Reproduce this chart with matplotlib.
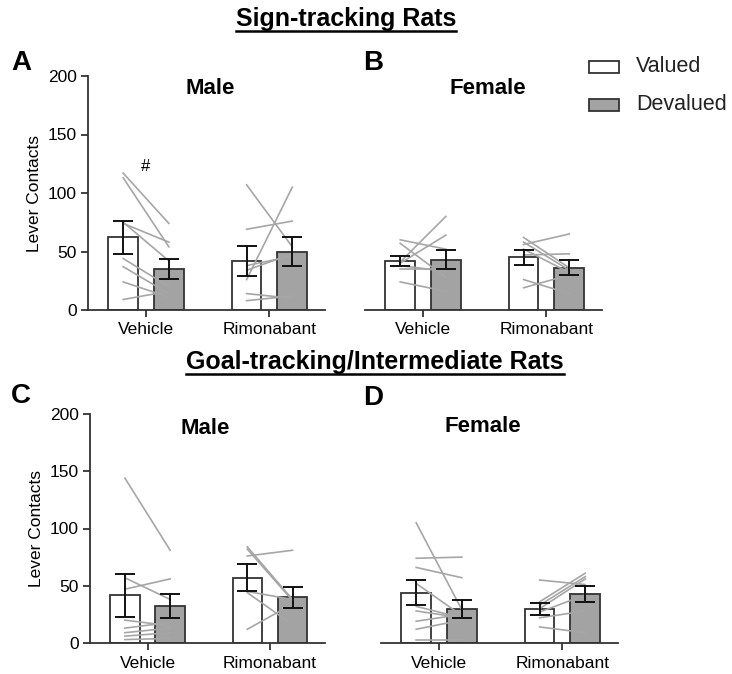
import matplotlib
matplotlib.use("Agg")
import matplotlib.pyplot as plt
from matplotlib.lines import Line2D
from matplotlib.patches import Rectangle

plt.rcParams['font.family'] = ['Liberation Sans', 'DejaVu Sans']

groups = ["Vehicle", "Rimonabant"]
legend_labels = ["Valued", "Devalued"]

# bar means and SEM (Valued, Devalued) per panel
A_valued = [62, 42]
A_valued_err = [14, 13]
A_deval = [35, 50]
A_deval_err = [8.5, 12.5]

B_valued = [42, 45]
B_valued_err = [4.5, 6.3]
B_deval = [43, 36]
B_deval_err = [8.3, 6.5]

C_valued = [41.5, 57]
C_valued_err = [19, 12]
C_deval = [32, 40]
C_deval_err = [10.5, 9]

D_valued = [44, 30]
D_valued_err = [11, 5.3]
D_deval = [30, 43]
D_deval_err = [7.8, 7]

# individual rats (valued -> devalued)
A_veh_valued = [117, 113, 74, 75, 44, 37, 24, 9]
A_veh_deval = [74, 54, 58, 42, 20, 14, 11, 16]
A_rim_valued = [107, 26, 69, 38, 34, 14, 8]
A_rim_deval = [54, 105, 76, 46, 48, 10, 12]

B_veh_valued = [41, 40, 60, 57, 38, 35, 24]
B_veh_deval = [80, 64, 52, 28, 33, 35, 16]
B_rim_valued = [56, 62, 58, 52, 47, 26, 19]
B_rim_deval = [65, 36, 34, 32, 48, 14, 30]

C_veh_valued = [144, 57, 47, 20, 13, 9, 6, 3]
C_veh_deval = [81, 38, 56, 15, 18, 13, 9, 4]
C_rim_valued = [84, 82, 76, 45, 44, 12]
C_rim_deval = [38, 37, 81, 38, 16, 34]

D_veh_valued = [105, 74, 66, 52, 32, 28, 19, 12, 3]
D_veh_deval = [29, 75, 57, 24, 22, 22, 25, 20, 3]
D_rim_valued = [55, 36, 33, 30, 27, 22, 14]
D_rim_deval = [51, 61, 58, 56, 42, 28, 9]

W, H = 732, 674
fig = plt.figure(figsize=(W / 100, H / 100), dpi=100)


def px_axes(left, right, top, bottom):
    return fig.add_axes([left / W, 1 - bottom / H, (right - left) / W, (bottom - top) / H])


edge = '#333333'
dev_color = '#a3a3a3'
line_color = '#a6a6a6'
off = 0.185
bw = 0.24


def draw_panel(ax, valued, valued_err, deval, deval_err, rats, show_y):
    x = range(len(groups))
    xv = [i - off for i in x]
    xd = [i + off for i in x]
    ax.bar(xv, valued, width=bw, color='white', edgecolor=edge, linewidth=1.3, zorder=1)
    ax.bar(xd, deval, width=bw, color=dev_color, edgecolor=edge, linewidth=1.3, zorder=1)
    for i, (v, d) in enumerate(rats):
        for a, b in zip(v, d):
            ax.plot([xv[i], xd[i]], [a, b], color=line_color, lw=1.2, zorder=2)
    ax.errorbar(xv, valued, yerr=valued_err, fmt='none', ecolor='#111111',
                elinewidth=1.4, capsize=7, capthick=1.4, zorder=3)
    ax.errorbar(xd, deval, yerr=deval_err, fmt='none', ecolor='#111111',
                elinewidth=1.4, capsize=7, capthick=1.4, zorder=3)
    ax.set_xlim(-0.47, 1.45)
    ax.set_ylim(0, 200)
    ax.set_xticks(list(x))
    ax.set_xticklabels(groups, fontsize=12.5)
    ax.spines['top'].set_visible(False)
    ax.spines['right'].set_visible(False)
    for s in ['left', 'bottom']:
        ax.spines[s].set_color(edge)
        ax.spines[s].set_linewidth(1.3)
    ax.tick_params(axis='x', length=5, width=1.3, color=edge, pad=4)
    if show_y:
        ax.set_yticks([0, 50, 100, 150, 200])
        ax.tick_params(axis='y', length=5, width=1.3, color=edge, labelsize=12.5, pad=3)
        ax.set_ylabel("Lever Contacts", fontsize=12.5)
    else:
        ax.spines['left'].set_visible(False)
        ax.set_yticks([])


axA = px_axes(88, 325, 76, 310)
draw_panel(axA, A_valued, A_valued_err, A_deval, A_deval_err,
           [(A_veh_valued, A_veh_deval), (A_rim_valued, A_rim_deval)], True)
axA.text(0, 116, "#", ha='center', va='bottom', fontsize=12)

axB = px_axes(365, 602, 76, 310)
draw_panel(axB, B_valued, B_valued_err, B_deval, B_deval_err,
           [(B_veh_valued, B_veh_deval), (B_rim_valued, B_rim_deval)], False)

axC = px_axes(90, 325, 414, 643)
draw_panel(axC, C_valued, C_valued_err, C_deval, C_deval_err,
           [(C_veh_valued, C_veh_deval), (C_rim_valued, C_rim_deval)], True)

axD = px_axes(381, 618, 414, 643)
draw_panel(axD, D_valued, D_valued_err, D_deval, D_deval_err,
           [(D_veh_valued, D_veh_deval), (D_rim_valued, D_rim_deval)], False)


def ftext(x, y, s, **kw):
    return fig.text(x / W, 1 - y / H, s, **kw)


# subplot titles
ftext(210, 88, "Male", ha='center', va='center', fontsize=16, fontweight='bold')
ftext(488, 88, "Female", ha='center', va='center', fontsize=16, fontweight='bold')
ftext(205, 428, "Male", ha='center', va='center', fontsize=16, fontweight='bold')
ftext(483, 427, "Female", ha='center', va='center', fontsize=16, fontweight='bold')

# panel letters
for lab, x, y in [("A", 11, 63), ("B", 363, 63), ("C", 11, 396), ("D", 363, 398)]:
    ftext(x, y, lab, ha='left', va='center', fontsize=20, fontweight='bold')

# section titles, underlined
t1 = ftext(346, 19, "Sign-tracking Rats", ha='center', va='center', fontsize=18, fontweight='bold')
t2 = ftext(375, 362, "Goal-tracking/Intermediate Rats", ha='center', va='center', fontsize=18, fontweight='bold')

# legend drawn by hand in pixel positions
for lab, fc, yc in zip(legend_labels, ['white', dev_color], [67, 105]):
    fig.add_artist(Rectangle((589 / W, 1 - (yc + 6) / H), 30 / W, 12 / H, facecolor=fc,
                             edgecolor=edge, linewidth=1.3, transform=fig.transFigure))
    ftext(636, yc, lab, ha='left', va='center', fontsize=15.5, color='#222222')

fig.canvas.draw()
r = fig.canvas.get_renderer()
for t in (t1, t2):
    bb = t.get_window_extent(renderer=r)
    y = bb.y0
    fig.add_artist(Line2D([bb.x0 / W, bb.x1 / W], [y / H, y / H], color='black', lw=1.8,
                          transform=fig.transFigure))

fig.savefig("out.png", dpi=100)
